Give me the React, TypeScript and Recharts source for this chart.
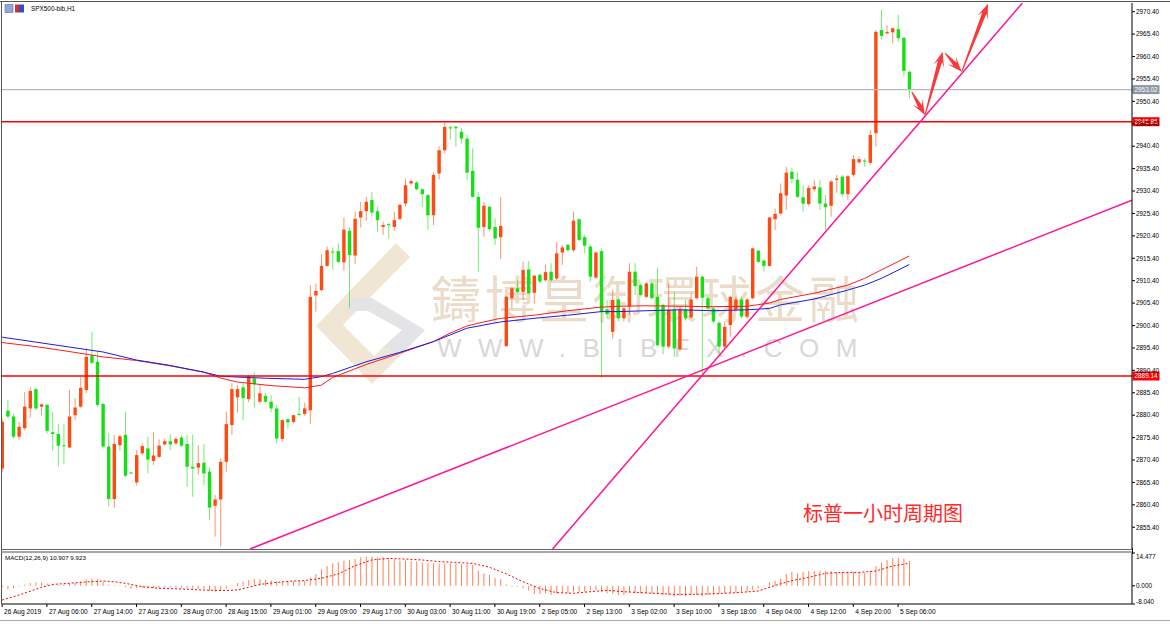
import React from 'react';
import { ComposedChart, Bar, Line, XAxis, YAxis, ReferenceLine } from 'recharts';

const FONT = "'Liberation Sans', Arial, sans-serif";

const openPrices = [
  2868.5, 2881.4, 2880.1, 2875.6, 2877.5, 2881.9, 2886.2, 2882.3, 2882.7, 2876.6,
  2876.2, 2873.7, 2873.2, 2880.4, 2882.3, 2886.0, 2893.7, 2892.3, 2882.9, 2873.4,
  2861.7, 2873.7, 2876.0, 2867.6, 2865.4, 2871.9, 2873.0, 2870.2, 2871.1, 2873.9,
  2874.6, 2874.1, 2875.4, 2874.0, 2868.9, 2868.7, 2869.8, 2867.8, 2860.2, 2861.6,
  2870.0, 2878.2, 2884.4, 2886.6, 2884.0, 2888.6, 2883.4, 2884.7, 2883.4, 2881.9,
  2875.1, 2879.5, 2878.9, 2880.7, 2880.7, 2881.5, 2907.1, 2908.3, 2913.7, 2916.9,
  2917.0, 2914.5, 2921.5, 2916.0, 2924.5, 2925.9, 2928.4, 2925.9, 2922.4, 2923.0,
  2922.4, 2924.2, 2927.6, 2932.1, 2932.3, 2930.8, 2929.5, 2925.0, 2934.3, 2939.5,
  2944.6, 2944.7, 2943.6, 2942.1, 2934.9, 2929.1, 2922.4, 2926.9, 2922.4, 2920.1,
  2895.8, 2906.5, 2908.7, 2907.9, 2912.9, 2907.7, 2911.7, 2910.5, 2912.4, 2910.9,
  2916.7, 2918.4, 2917.2, 2924.1, 2920.1, 2918.0, 2911.1, 2917.0, 2904.0, 2899.0,
  2906.2, 2902.0, 2904.7, 2912.4, 2909.4, 2906.8, 2909.8, 2906.8, 2905.0, 2895.7,
  2903.9, 2895.1, 2904.0, 2902.2, 2906.5, 2911.3, 2906.5, 2904.2, 2901.0, 2895.7,
  2900.5, 2903.9, 2906.2, 2902.4, 2906.5, 2917.1, 2914.9, 2913.7, 2924.1, 2925.4,
  2929.4, 2934.7, 2932.9, 2929.0, 2927.5, 2930.8, 2931.2, 2927.6, 2927.1, 2932.9,
  2933.6, 2929.7, 2934.0, 2936.8, 2937.2, 2936.7, 2943.3, 2966.3, 2965.6, 2965.8,
  2966.5, 2964.6, 2957.0,
];
const highPrices = [
  2879.5, 2883.8, 2880.8, 2878.9, 2885.6, 2886.6, 2886.6, 2883.0, 2882.9, 2881.2,
  2878.4, 2878.4, 2886.0, 2884.2, 2889.0, 2895.3, 2899.0, 2894.6, 2883.1, 2876.3,
  2876.0, 2876.0, 2881.2, 2867.7, 2872.6, 2874.1, 2875.6, 2876.6, 2875.0, 2875.2,
  2876.1, 2875.6, 2875.9, 2876.0, 2876.0, 2873.7, 2873.9, 2868.8, 2862.6, 2870.8,
  2881.2, 2887.5, 2887.1, 2887.5, 2889.4, 2890.0, 2887.1, 2885.3, 2884.9, 2882.7,
  2879.5, 2879.7, 2880.5, 2884.5, 2883.2, 2909.4, 2909.8, 2916.3, 2918.0, 2917.8,
  2918.7, 2924.5, 2922.3, 2925.8, 2928.0, 2929.1, 2930.2, 2926.9, 2923.6, 2923.3,
  2925.8, 2927.6, 2933.2, 2932.9, 2932.7, 2931.0, 2929.7, 2934.5, 2940.4, 2945.9,
  2945.1, 2945.1, 2944.4, 2942.9, 2939.9, 2930.2, 2928.0, 2927.0, 2924.3, 2929.0,
  2907.0, 2909.1, 2910.5, 2914.6, 2914.8, 2911.7, 2912.0, 2914.0, 2914.3, 2919.1,
  2918.4, 2918.6, 2925.8, 2924.3, 2920.6, 2918.4, 2916.9, 2917.6, 2906.1, 2908.3,
  2906.5, 2904.6, 2914.3, 2914.3, 2909.8, 2910.0, 2910.2, 2913.2, 2905.3, 2909.8,
  2907.9, 2904.6, 2906.1, 2907.6, 2913.5, 2911.5, 2906.8, 2904.6, 2901.3, 2901.3,
  2907.0, 2906.8, 2906.8, 2906.6, 2917.8, 2917.2, 2915.0, 2924.7, 2926.5, 2932.1,
  2935.8, 2935.5, 2934.5, 2931.7, 2931.7, 2932.9, 2932.9, 2929.5, 2932.9, 2934.0,
  2934.0, 2934.0, 2938.4, 2938.1, 2937.7, 2944.0, 2966.3, 2970.8, 2967.4, 2966.8,
  2969.7, 2964.7, 2957.2,
];
const lowPrices = [
  2867.8, 2879.7, 2875.2, 2874.9, 2877.1, 2879.9, 2881.5, 2880.4, 2876.3, 2872.5,
  2868.9, 2869.5, 2873.0, 2879.3, 2882.0, 2885.3, 2891.9, 2882.3, 2873.0, 2860.1,
  2859.8, 2872.5, 2866.6, 2867.3, 2864.7, 2871.5, 2867.4, 2869.3, 2870.8, 2873.6,
  2872.6, 2873.9, 2873.3, 2864.4, 2862.2, 2867.2, 2864.8, 2857.0, 2853.3, 2851.1,
  2867.8, 2876.0, 2881.0, 2879.3, 2883.3, 2882.1, 2883.0, 2883.0, 2881.0, 2874.1,
  2874.5, 2877.3, 2878.5, 2880.1, 2880.3, 2878.4, 2903.5, 2908.0, 2913.5, 2912.9,
  2914.3, 2912.6, 2904.4, 2914.1, 2922.3, 2923.8, 2924.7, 2921.3, 2920.6, 2919.8,
  2921.5, 2923.8, 2926.9, 2931.8, 2930.5, 2926.8, 2921.8, 2922.8, 2933.0, 2938.8,
  2941.9, 2940.3, 2941.0, 2932.9, 2928.9, 2912.4, 2920.2, 2921.5, 2918.4, 2915.2,
  2895.7, 2904.2, 2907.6, 2906.1, 2907.4, 2905.3, 2909.8, 2910.2, 2910.2, 2910.5,
  2913.9, 2916.9, 2916.7, 2919.2, 2916.5, 2910.2, 2910.8, 2888.7, 2902.0, 2897.5,
  2901.3, 2901.3, 2902.7, 2907.2, 2906.9, 2906.5, 2906.2, 2895.8, 2894.0, 2895.3,
  2893.4, 2894.6, 2901.5, 2901.9, 2906.2, 2889.0, 2903.9, 2900.9, 2894.2, 2895.3,
  2897.9, 2903.5, 2902.0, 2902.0, 2906.2, 2914.3, 2912.4, 2913.5, 2921.7, 2925.0,
  2926.2, 2932.1, 2928.8, 2925.8, 2927.1, 2930.3, 2926.2, 2921.7, 2924.7, 2930.0,
  2929.1, 2928.4, 2933.6, 2936.5, 2935.8, 2936.2, 2940.3, 2964.2, 2965.3, 2963.3,
  2963.7, 2955.9, 2951.1,
];
const closePrices = [
  2878.9, 2880.1, 2875.6, 2877.8, 2882.3, 2885.8, 2881.9, 2882.8, 2876.9, 2876.2,
  2873.6, 2873.6, 2880.1, 2882.1, 2886.5, 2893.4, 2892.1, 2882.7, 2873.4, 2861.7,
  2874.0, 2875.7, 2866.9, 2867.4, 2871.5, 2873.5, 2870.5, 2871.4, 2873.6, 2874.6,
  2873.9, 2875.1, 2873.6, 2868.9, 2868.5, 2869.7, 2867.4, 2859.8, 2861.6, 2870.0,
  2878.4, 2886.2, 2886.2, 2884.2, 2889.1, 2887.3, 2885.3, 2883.4, 2881.9, 2875.2,
  2879.3, 2878.8, 2880.4, 2880.5, 2881.9, 2906.8, 2908.1, 2913.7, 2917.2, 2916.7,
  2914.6, 2921.8, 2916.1, 2924.2, 2925.9, 2928.0, 2925.6, 2923.9, 2922.8, 2922.8,
  2923.9, 2927.3, 2931.7, 2932.6, 2930.8, 2929.7, 2925.0, 2934.0, 2939.5, 2944.7,
  2944.5, 2944.4, 2942.1, 2934.5, 2929.1, 2922.2, 2927.1, 2921.9, 2919.8, 2922.6,
  2906.8, 2908.7, 2907.9, 2912.8, 2907.6, 2911.5, 2910.2, 2912.3, 2910.5, 2916.5,
  2917.8, 2917.2, 2923.8, 2919.5, 2918.2, 2911.3, 2916.7, 2903.5, 2902.9, 2906.1,
  2902.0, 2904.2, 2912.4, 2909.2, 2907.2, 2909.8, 2906.5, 2896.0, 2895.7, 2903.9,
  2895.3, 2904.0, 2902.0, 2906.2, 2911.3, 2906.6, 2904.2, 2901.3, 2895.7, 2900.1,
  2906.8, 2906.2, 2902.4, 2906.2, 2917.6, 2914.6, 2913.7, 2924.5, 2925.3, 2929.9,
  2934.5, 2933.1, 2929.1, 2927.6, 2931.1, 2931.4, 2927.6, 2926.8, 2932.5, 2933.2,
  2929.7, 2933.7, 2937.5, 2937.5, 2937.0, 2942.9, 2965.9, 2965.0, 2965.9, 2966.7,
  2964.5, 2957.2, 2953.0,
];

// moving averages read at sample bars
const maIdx = [0, 6, 12, 18, 24, 30, 36, 39, 42, 48, 54, 57, 59, 65, 71, 77, 80, 83, 86, 89, 95, 101, 107, 110, 115, 121, 127, 133, 137, 139, 145, 151, 154, 157, 162];
const maRedVal = [2896.6, 2895.7, 2894.6, 2893.4, 2892.6, 2891.4, 2890.0, 2888.7, 2887.8, 2887.0, 2886.5, 2887.1, 2888.8, 2891.7, 2894.2, 2896.8, 2898.7, 2900.3, 2901.2, 2902.0, 2902.7, 2903.7, 2904.5, 2904.7, 2904.8, 2904.7, 2904.6, 2904.7, 2905.4, 2906.2, 2907.6, 2909.4, 2910.9, 2912.8, 2915.9];
const maBlueVal = [2897.8, 2896.7, 2895.6, 2894.5, 2892.7, 2891.5, 2890.0, 2889.1, 2888.9, 2888.6, 2888.4, 2889.0, 2889.7, 2892.3, 2894.4, 2896.8, 2898.3, 2899.8, 2900.5, 2901.2, 2902.0, 2902.7, 2903.5, 2903.5, 2903.7, 2903.9, 2903.7, 2903.9, 2904.2, 2905.0, 2906.3, 2908.3, 2909.4, 2910.9, 2914.0];

const macdHist = [
  -0.5, -1.5, -1.0, -0.3, 0.5, 1.2, 1.5, 1.4, 1.0, 0.8,
  0.5, 0.6, 1.0, 1.3, 1.8, 2.8, 3.2, 2.8, 1.8, 0.5,
  0.3, 0.2, -0.6, -1.3, -1.0, -0.9, -1.0, -1.0, -0.9, -0.8,
  -0.8, -0.8, -0.8, -1.0, -1.3, -1.4, -1.5, -2.2, -2.6, -2.2,
  -1.2, 0.3, 1.2, 1.8, 2.6, 3.0, 2.9, 2.6, 2.4, 1.9,
  1.8, 1.8, 2.0, 2.0, 2.1, 3.7, 5.2, 7.3, 8.7, 9.9,
  10.4, 11.1, 11.4, 11.8, 12.6, 12.9, 12.9, 12.6, 12.6, 12.1,
  11.7, 11.1, 11.1, 11.0, 10.7, 10.2, 9.9, 9.9, 9.9, 9.9,
  9.9, 9.9, 9.6, 9.5, 9.2, 6.7, 5.5, 4.8, 3.3, 2.9,
  0.6, -0.4, -0.4, -1.1, -2.1, -3.6, -3.6, -3.3, -4.1, -3.3,
  -3.0, -3.3, -2.6, -2.6, -2.6, -1.9, -1.9, -2.6, -3.3, -3.5,
  -4.1, -4.1, -3.0, -3.3, -3.3, -3.3, -3.6, -3.6, -4.1, -4.1,
  -4.8, -4.5, -4.5, -4.1, -4.1, -4.5, -4.1, -3.8, -3.3, -3.3,
  -3.0, -3.0, -3.0, -2.6, -1.9, -1.1, -0.4, 1.4, 2.3, 3.3,
  5.2, 6.2, 5.5, 6.2, 6.5, 6.5, 6.5, 6.5, 6.5, 6.2,
  6.2, 6.2, 6.2, 5.8, 5.8, 6.2, 8.7, 10.2, 11.4, 12.1,
  12.4, 12.0, 10.907,
];
const sigIdx = [0, 3, 7, 9, 12, 15, 18, 20, 22, 25, 28, 32, 36, 40, 42, 44, 46, 49, 52, 54, 57, 60, 63, 66, 69, 72, 75, 78, 81, 84, 87, 90, 93, 96, 99, 102, 105, 108, 111, 114, 120, 123, 126, 129, 132, 135, 138, 141, 144, 147, 150, 153, 156, 159, 162];
const sigVal = [-6.3, -4.1, -0.7, 0.6, 1.1, 1.7, 2.1, 1.8, 1.1, -0.4, -1.1, -1.4, -1.9, -2.1, -1.8, -0.7, 0.6, 1.5, 2.1, 2.3, 3.3, 5.2, 8.8, 11.4, 12.1, 11.8, 11.4, 10.7, 10.3, 9.9, 8.2, 5.3, 1.8, -1.2, -3.0, -3.3, -2.6, -2.0, -2.6, -3.0, -3.8, -3.8, -3.6, -3.3, -2.9, -2.3, 0.1, 2.3, 3.7, 5.5, 5.9, 5.9, 6.5, 8.7, 9.923];

const timeTickIdx = [0, 8, 16, 24, 32, 40, 48, 56, 64, 72, 80, 88, 96, 104, 112, 120, 128, 136, 144, 152, 160];
const timeTickLabels = ['26 Aug 2019', '27 Aug 06:00', '27 Aug 14:00', '27 Aug 23:00', '28 Aug 07:00', '28 Aug 15:00', '29 Aug 01:00', '29 Aug 09:00', '29 Aug 17:00', '30 Aug 03:00', '30 Aug 11:00', '30 Aug 19:00', '2 Sep 05:00', '2 Sep 13:00', '3 Sep 02:00', '3 Sep 10:00', '3 Sep 18:00', '4 Sep 04:00', '4 Sep 12:00', '4 Sep 20:00', '5 Sep 06:00'];
const priceTicks = [2855.4, 2860.4, 2865.4, 2870.4, 2875.4, 2880.4, 2885.4, 2890.4, 2895.4, 2900.4, 2905.4, 2910.4, 2915.4, 2920.4, 2925.4, 2930.4, 2935.4, 2940.4, 2945.4, 2950.4, 2955.4, 2960.4, 2965.4, 2970.4];
const macdTicks = [14.477, 0, -8.04];

const resistanceLevel = 2945.86;
const supportLevel = 2889.14;
const bidLevel = 2953.02;

// trend lines: [barIndex, price] end points
const steepTrend = [[98.3, 2850.55], [182.2, 2972.34]];
const shallowTrend = [[44.27, 2850.55], [201.77, 2928.37]];
// projected path arrows: [fromBar, fromPrice, toBar, toPrice]
const arrowPath = [
  [162.43, 2952.55, 164.8, 2947.35],
  [164.8, 2947.35, 167.96, 2961.47],
  [168.38, 2961.18, 171.36, 2957.01],
  [171.36, 2957.01, 176.05, 2972.2],
];

const X_DOMAIN: [number, number] = [-0.02, 201.77];
const Y_DOMAIN: [number, number] = [2850.55, 2972.34];
const MACD_DOMAIN: [number, number] = [-8.04, 14.477];

const UP = '#FF4A12';
const DOWN = '#14E014';

const Candle = (props: any) => {
  const { x, y, width, height, payload } = props;
  if (payload == null) return null;
  const { o, h, l, c } = payload;
  const cx = x + width / 2;
  const span = h - l;
  const py = (p: number) => (span > 0 ? y + ((h - p) / span) * height : y);
  const up = c > o;
  const color = up ? UP : DOWN;
  const top = py(Math.max(o, c));
  const bot = py(Math.min(o, c));
  return (
    <g>
      <line x1={cx} x2={cx} y1={y} y2={y + height} stroke={color} strokeOpacity={0.6} strokeWidth={1} />
      <rect x={cx - 1.7} y={top} width={3.4} height={Math.max(bot - top, 1)} fill={color} />
    </g>
  );
};

const HistBar = (props: any) => {
  const { x, y, width, height } = props;
  const top = Math.min(y, y + height);
  const h = Math.abs(height);
  const cx = x + width / 2;
  return <rect x={cx - 0.5} y={top} width={1} height={h} fill="#FF8256" />;
};

const PriceTick = (props: any) => {
  const { x, y, payload } = props;
  return (
    <g>
      <line x1={x} x2={x + 3} y1={y} y2={y} stroke="#000" strokeWidth={1} />
      <text x={x + 4} y={y + 2.3} fontSize={6.4} fontFamily={FONT} fill="#000">
        {Number(payload.value).toFixed(2)}
      </text>
    </g>
  );
};

const MacdTick = (props: any) => {
  const { x, y, payload } = props;
  const v = Number(payload.value);
  const dy = v === MACD_DOMAIN[1] ? 5.5 : v === MACD_DOMAIN[0] ? -0.5 : 2.3;
  return (
    <g>
      <line x1={x} x2={x + 3} y1={y} y2={y} stroke="#000" strokeWidth={1} />
      <text x={x + 4} y={y + dy} fontSize={6.4} fontFamily={FONT} fill="#000">
        {v.toFixed(3)}
      </text>
    </g>
  );
};

const TimeTick = (props: any) => {
  const { x, y, payload } = props;
  const k = timeTickIdx.indexOf(payload.value);
  return (
    <g>
      <line x1={x} x2={x} y1={y} y2={y + 3} stroke="#000" strokeWidth={1} />
      <text x={x + 2} y={y + 10} fontSize={6.6} fontFamily={FONT} fill="#000">
        {k >= 0 ? timeTickLabels[k] : ''}
      </text>
    </g>
  );
};

const priceBox = (value: number, bg: string) => (p: any) => {
  const vb = p.viewBox || {};
  const x = (vb.x ?? 0) + (vb.width ?? 0);
  const y = vb.y ?? 0;
  return (
    <g>
      <rect x={x + 0.5} y={y - 4.5} width={27} height={9} fill={bg} />
      <text x={x + 2.5} y={y + 2.3} fontSize={6.4} fontFamily={FONT} fill="#fff">
        {value.toFixed(2)}
      </text>
    </g>
  );
};

const ArrowShape = (p: any) => {
  const { x1, y1, x2, y2 } = p;
  const dx = x2 - x1;
  const dy = y2 - y1;
  const len = Math.hypot(dx, dy) || 1;
  const ux = dx / len;
  const uy = dy / len;
  const nx = -uy;
  const ny = ux;
  const neck = 10;
  const barb = 15;
  const hw = 5.5;
  const sw = 2.2;
  const tw = 0.5;
  const nxp = x2 - ux * neck;
  const nyp = y2 - uy * neck;
  const bxp = x2 - ux * barb;
  const byp = y2 - uy * barb;
  const pts = [
    [x1 + nx * tw, y1 + ny * tw],
    [nxp + nx * sw, nyp + ny * sw],
    [bxp + nx * hw, byp + ny * hw],
    [x2, y2],
    [bxp - nx * hw, byp - ny * hw],
    [nxp - nx * sw, nyp - ny * sw],
    [x1 - nx * tw, y1 - ny * tw],
  ];
  return <polygon points={pts.map((q) => q.join(',')).join(' ')} fill="#F83A3A" />;
};

export default function App() {
  const data = openPrices.map((o, i) => ({
    i,
    o,
    h: highPrices[i],
    l: lowPrices[i],
    c: closePrices[i],
    maR: null as number | null,
    maB: null as number | null,
    macd: macdHist[i],
    sig: null as number | null,
  }));
  maIdx.forEach((idx, k) => {
    data[idx].maR = maRedVal[k];
    data[idx].maB = maBlueVal[k];
  });
  sigIdx.forEach((idx, k) => {
    data[idx].sig = sigVal[k];
  });

  return (
    <div style={{ position: 'absolute', left: 0, top: 0, width: 1170, height: 624, background: '#fff', overflow: 'hidden', fontFamily: FONT }}>
      {/* watermark */}
      <svg width={1170} height={624} style={{ position: 'absolute', left: 0, top: 0 }}>
        <polygon points="396,243 410,257 343,325 380,362 367,378 316,326" fill="#F1E6D4" />
        <polygon points="352,298 372,298 425,330 398,358 384,346 402,330 368,311 345,311" fill="#E4E4E6" />
        <polygon points="384,346 398,358 372,384 360,372" fill="#F1E6D4" />
        <text x={431} y={318} fontSize={50} letterSpacing={4} fill="#EADCC8" fontFamily="'Noto Sans CJK TC', 'Noto Sans CJK SC', sans-serif">鑄博皇御環球金融</text>
        <text x={437} y={357} fontSize={26} letterSpacing={16.5} fill="#D8D8D8" fontFamily={FONT}>WWW.BIBFX.COM</text>
        <text x={803} y={521} fontSize={20} fill="#FF2A2A" fontFamily="'Noto Sans CJK SC', sans-serif">标普一小时周期图</text>
      </svg>

      <div style={{ position: 'absolute', left: 0, top: 0 }}>
        <ComposedChart width={1170} height={552} data={data} margin={{ top: 3, right: 0, bottom: 3, left: 2 }}>
          <XAxis type="number" dataKey="i" domain={X_DOMAIN} hide allowDataOverflow />
          <YAxis
            orientation="right"
            domain={Y_DOMAIN}
            ticks={priceTicks}
            interval={0}
            width={38}
            allowDataOverflow
            tickLine={false}
            tickSize={0}
            tickMargin={0}
            axisLine={{ stroke: '#000' }}
            tick={<PriceTick />}
          />
          <Line dataKey="maR" stroke="#FF1A1A" strokeWidth={1} dot={false} connectNulls isAnimationActive={false} />
          <Line dataKey="maB" stroke="#1A1AE6" strokeWidth={1} dot={false} connectNulls isAnimationActive={false} />
          <Bar dataKey={(d: any) => [d.l, d.h]} barSize={4} shape={<Candle />} isAnimationActive={false} />
          <ReferenceLine y={bidLevel} stroke="#B4B8C0" strokeWidth={1.2} label={priceBox(bidLevel, '#8E96A6')} />
          <ReferenceLine y={resistanceLevel} stroke="#FF0000" strokeWidth={1.6} label={priceBox(resistanceLevel, '#FF0000')} />
          <ReferenceLine y={supportLevel} stroke="#FF0000" strokeWidth={1.6} label={priceBox(supportLevel, '#FF0000')} />
          <ReferenceLine
            segment={[{ x: steepTrend[0][0], y: steepTrend[0][1] }, { x: steepTrend[1][0], y: steepTrend[1][1] }]}
            stroke="#FF1493"
            strokeWidth={1.5}
            ifOverflow="hidden"
          />
          <ReferenceLine
            segment={[{ x: shallowTrend[0][0], y: shallowTrend[0][1] }, { x: shallowTrend[1][0], y: shallowTrend[1][1] }]}
            stroke="#FF1493"
            strokeWidth={1.5}
            ifOverflow="hidden"
          />
          {arrowPath.map((a, k) => (
            <ReferenceLine
              key={k}
              segment={[{ x: a[0], y: a[1] }, { x: a[2], y: a[3] }]}
              ifOverflow="visible"
              shape={ArrowShape}
            />
          ))}
        </ComposedChart>
      </div>

      <div style={{ position: 'absolute', left: 0, top: 550 }}>
        <ComposedChart width={1170} height={74} data={data} margin={{ top: 3, right: 0, bottom: 0, left: 2 }}>
          <XAxis
            type="number"
            dataKey="i"
            domain={X_DOMAIN}
            allowDataOverflow
            ticks={timeTickIdx}
            interval={0}
            height={20}
            tickLine={false}
            tickSize={0}
            tickMargin={0}
            axisLine={{ stroke: '#000' }}
            tick={<TimeTick />}
          />
          <YAxis
            orientation="right"
            domain={MACD_DOMAIN}
            ticks={macdTicks}
            interval={0}
            width={38}
            allowDataOverflow
            tickLine={false}
            tickSize={0}
            tickMargin={0}
            axisLine={{ stroke: '#000' }}
            tick={<MacdTick />}
          />
          <Bar dataKey="macd" barSize={2} shape={<HistBar />} isAnimationActive={false} />
          <Line dataKey="sig" stroke="#FF0000" strokeWidth={1} strokeDasharray="2 2" dot={false} connectNulls isAnimationActive={false} />
        </ComposedChart>
      </div>

      {/* frame, labels */}
      <svg width={1170} height={624} style={{ position: 'absolute', left: 0, top: 0, pointerEvents: 'none' }}>
        <line x1={0} x2={1170} y1={1.5} y2={1.5} stroke="#555" />
        <line x1={1.5} x2={1.5} y1={1.5} y2={604} stroke="#555" />
        <line x1={1.5} x2={1132} y1={549.5} y2={549.5} stroke="#666" />
        <line x1={1.5} x2={1132} y1={552} y2={552} stroke="#888" strokeWidth={1.5} />
        <line x1={1132.5} x2={1132.5} y1={548} y2={554} stroke="#000" />
        <line x1={0} x2={1170} y1={620.5} y2={620.5} stroke="#A8A8A8" />
        <rect x={5} y={4.5} width={8} height={8} fill="#8FA8D8" stroke="#5A6E9A" strokeWidth={0.6} />
        <rect x={15} y={4.5} width={4} height={8} fill="#D83030" />
        <rect x={19} y={4.5} width={5} height={8} fill="#3050C8" />
        <text x={31} y={11} fontSize={6.4} fontFamily={FONT} fill="#000">SPX500-bib,H1</text>
        <text x={5} y={560} fontSize={6.2} fontFamily={FONT} fill="#000">MACD(12,26,9) 10.907 9.923</text>
      </svg>
    </div>
  );
}
